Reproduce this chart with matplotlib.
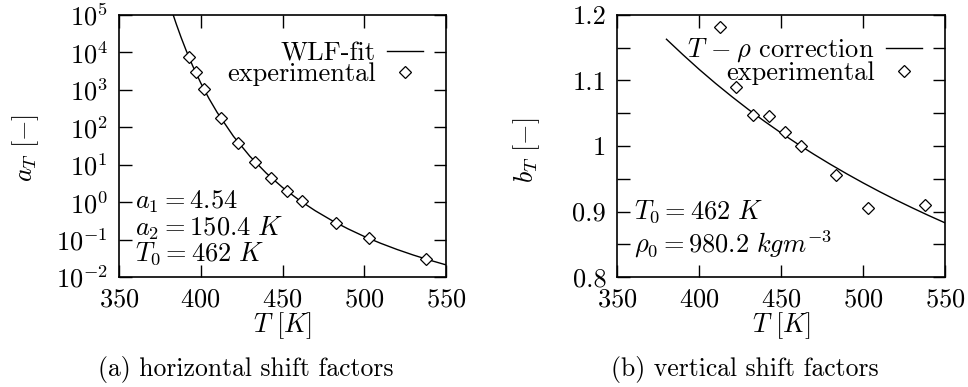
import matplotlib
matplotlib.use("Agg")
import matplotlib.pyplot as plt
from matplotlib.ticker import NullLocator, FixedLocator

plt.rcParams["font.family"] = ["cmr10"]
plt.rcParams["mathtext.fontset"] = "cm"
plt.rcParams["axes.formatter.use_mathtext"] = True

# horizontal shift factors (a)
exp_T_a = [392.8, 397.1, 401.8, 412.6, 422.8, 433.0, 443.2, 452.5, 461.7, 482.9, 503.1, 538.0]
exp_aT = [7670, 3050, 1030, 174, 37, 11.5, 4.5, 2.0, 1.05, 0.28, 0.11, 0.030]

fit_T_a = [383, 385, 388, 391, 395, 400, 405, 410, 420, 430, 440, 450, 460,
           470, 480, 490, 500, 510, 520, 530, 540, 550]
fit_aT = [1.05e5, 5.79e4, 2.50e4, 1.15e4, 4.44e3, 1.53e3, 590, 251, 57.4, 16.9,
          6.0, 2.47, 1.15, 0.59, 0.327, 0.194, 0.121, 0.0797, 0.0545, 0.0386,
          0.0282, 0.0211]

# vertical shift factors (b)
exp_T_b = [412.7, 422.6, 432.8, 442.8, 452.6, 462.1, 483.3, 503.2, 537.8]
exp_bT = [1.182, 1.0896, 1.047, 1.046, 1.022, 1.0, 0.9555, 0.9047, 0.910]

fit_T_b = [380, 390, 400, 410, 420, 430, 440, 450, 460, 470, 480, 490, 500,
           510, 520, 530, 540, 550]
fit_bT = [1.163, 1.1395, 1.1169, 1.0955, 1.0752, 1.0558, 1.0374, 1.0199, 1.0032,
          0.9873, 0.9721, 0.9576, 0.9437, 0.9304, 0.9177, 0.9056, 0.8939, 0.8827]

W, H = 968, 387
FS = 19


def fx(px):
    return px / W


def fy(py):
    return 1 - py / H


def style_axes(ax):
    ax.tick_params(which="both", direction="in", top=True, right=True,
                   length=9, width=1.0, labelsize=FS, pad=8)
    for s in ax.spines.values():
        s.set_linewidth(1.2)
    ax.set_xlim(350, 550)
    ax.set_xticks([350, 400, 450, 500, 550])


def add_legend(ax, top):
    ax.legend(loc="upper right", bbox_to_anchor=(0.93, top), frameon=False,
              markerfirst=False, fontsize=FS, handlelength=1.35,
              handletextpad=0.45, labelspacing=-0.12, borderaxespad=0,
              borderpad=0)


fig = plt.figure(figsize=(W / 100, H / 100), dpi=100)

ax1 = fig.add_axes([fx(119), fy(277), fx(446 - 119), (277 - 15) / H])
ax2 = fig.add_axes([fx(617.3), fy(277), fx(945 - 617.3), (277 - 15) / H])

# (a)
ax1.plot(fit_T_a, fit_aT, color="black", lw=1.0, label="WLF-fit")
ax1.plot(exp_T_a, exp_aT, linestyle="none", marker="D", ms=6.5, mfc="white",
         mec="black", mew=0.9, label="experimental")
ax1.set_yscale("log")
ax1.set_ylim(1e-2, 1e5)
ax1.yaxis.set_major_locator(FixedLocator([10.0 ** k for k in range(-2, 6)]))
ax1.yaxis.set_minor_locator(NullLocator())
style_axes(ax1)
add_legend(ax1, 0.897)
ax1.text(0.049, 0.263, r"$a_1 = 4.54$", transform=ax1.transAxes, fontsize=FS, va="baseline")
ax1.text(0.049, 0.160, r"$a_2 = 150.4\ K$", transform=ax1.transAxes, fontsize=FS, va="baseline")
ax1.text(0.049, 0.062, r"$T_0 = 462\ K$", transform=ax1.transAxes, fontsize=FS, va="baseline")

# (b)
ax2.plot(fit_T_b, fit_bT, color="black", lw=1.0, label=r"$T\,- \rho$ correction")
ax2.plot(exp_T_b, exp_bT, linestyle="none", marker="D", ms=6.5, mfc="white",
         mec="black", mew=0.9, label="experimental")
ax2.set_ylim(0.8, 1.2)
ax2.set_yticks([0.8, 0.9, 1.0, 1.1, 1.2], ["0.8", "0.9", "1", "1.1", "1.2"])
ax2.yaxis.set_minor_locator(FixedLocator([0.85, 0.95, 1.05, 1.15]))
style_axes(ax2)
add_legend(ax2, 0.918)
ax2.text(0.051, 0.225, r"$T_0 = 462\ K$", transform=ax2.transAxes, fontsize=FS, va="baseline")
ax2.text(0.051, 0.092, r"$\rho_0 = 980.2\ kgm^{-3}$", transform=ax2.transAxes, fontsize=FS, va="baseline")

# axis labels and captions
fig.text(fx(26), fy(147.5), r"$a_T\ [-]$", rotation=90, ha="center", va="center", fontsize=FS)
fig.text(fx(526.5), fy(150), r"$b_T\ [-]$", rotation=90, ha="center", va="center", fontsize=FS)
fig.text(fx(282), fy(325.5), r"$T\ [K]$", ha="center", va="center", fontsize=FS)
fig.text(fx(781.7), fy(325.5), r"$T\ [K]$", ha="center", va="center", fontsize=FS)
fig.text(fx(245.7), fy(369.5), "(a) horizontal shift factors", ha="center", va="center", fontsize=18.5)
fig.text(fx(745), fy(369.5), "(b) vertical shift factors", ha="center", va="center", fontsize=18.5)

fig.savefig("out.png", dpi=100)
